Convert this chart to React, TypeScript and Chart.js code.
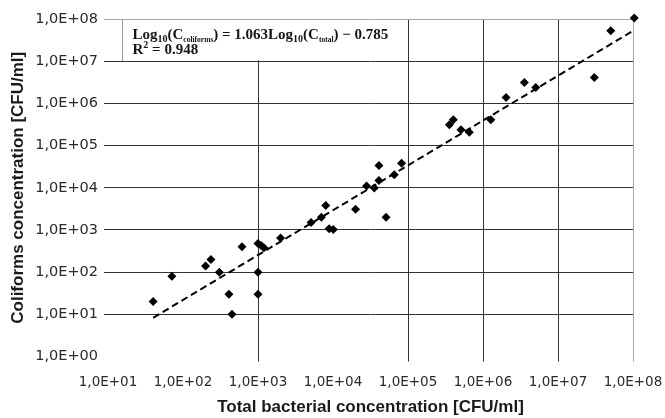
import React, { useEffect, useRef } from "react";
import { Chart, registerables } from "chart.js";

Chart.register(...registerables);

// Scatter data: total bacterial vs coliforms concentration [CFU/ml]
const totalCFU = [
  40, 71, 200, 236, 305, 410, 450, 612, 1000, 1000, 1000, 1100, 1200, 2000,
  5100, 7000, 8000, 8900, 10100, 20000, 28000, 35500, 41000, 41000, 51000,
  65600, 82000, 356000, 402000, 509000, 657000, 1270000, 2030000, 3560000,
  5050000, 30500000, 50500000, 104000000,
];
const coliformCFU = [
  20, 80, 140, 200, 100, 30, 10, 400, 100, 30, 480, 430, 380, 640,
  1500, 2000, 3800, 1060, 1020, 3100, 11000, 9800, 14800, 33600, 2000,
  20200, 38000, 310000, 407000, 236000, 208000, 408000, 1380000, 3130000,
  2380000, 4100000, 53000000, 105000000,
];

// Trend line (from the equation printed on the chart)
const trendSlope = 1.063;
const trendIntercept = -0.785;
const trendX = [40, 100000000];

const xTicks = [1e1, 1e2, 1e3, 1e4, 1e5, 1e6, 1e7, 1e8];
const yTicks = [1e0, 1e1, 1e2, 1e3, 1e4, 1e5, 1e6, 1e7, 1e8];
const xGridShown = [1e3, 1e5, 1e6, 1e7];
const yGridShown = [1e1, 1e2, 1e3, 1e4, 1e5, 1e6, 1e7];

const fmt = (v: number) => {
  const e = Math.round(Math.log10(v));
  return "1,0E+" + (e < 10 ? "0" + e : String(e));
};

const near = (a: number, b: number) => Math.abs(Math.log10(a) - Math.log10(b)) < 1e-6;

const equationPlugin = {
  id: "equation",
  beforeDatasetsDraw(chart: any) {
    const { ctx, chartArea, scales } = chart;
    const top = scales.y.getPixelForValue(1e8);
    const bottom = scales.y.getPixelForValue(1e7);
    const right = scales.x.getPixelForValue(1e5);
    const left = chartArea.left + 14;
    ctx.save();
    ctx.fillStyle = "#ffffff";
    ctx.fillRect(left, top + 1, right - left - 1, bottom - top - 2);
    ctx.strokeStyle = "#9a9a9a";
    ctx.lineWidth = 1;
    ctx.beginPath();
    ctx.moveTo(Math.round(left) + 0.5, Math.round(top));
    ctx.lineTo(Math.round(left) + 0.5, Math.round(bottom));
    ctx.stroke();
    ctx.fillStyle = "#151515";
    ctx.textBaseline = "alphabetic";
    ctx.textAlign = "left";
    const big = 'bold 15px "Liberation Serif", "Times New Roman", serif';
    const sub = 'bold 10px "Liberation Serif", "Times New Roman", serif';
    const tiny = 'bold 7.5px "Liberation Serif", "Times New Roman", serif';
    let x = left + 10.5;
    const y1 = top + 19.5;
    const parts: [string, string, number][] = [
      ["Log", big, 0],
      ["10", sub, 3],
      ["(C", big, 0],
      ["coliforms", tiny, 3],
      [") = 1.063Log", big, 0],
      ["10", sub, 3],
      ["(C", big, 0],
      ["total", tiny, 3],
      [") \u2212 0.785", big, 0],
    ];
    for (const [t, f, dy] of parts) {
      ctx.font = f;
      ctx.fillText(t, x, y1 + dy);
      x += ctx.measureText(t).width;
    }
    const y2 = top + 35;
    x = left + 10.5;
    const parts2: [string, string, number][] = [
      ["R", big, 0],
      ["2", sub, -6],
      [" = 0.948", big, 0],
    ];
    for (const [t, f, dy] of parts2) {
      ctx.font = f;
      ctx.fillText(t, x, y2 + dy);
      x += ctx.measureText(t).width;
    }
    ctx.restore();
  },
};

export default function App() {
  const ref = useRef<HTMLCanvasElement>(null);
  useEffect(() => {
    if (!ref.current) return;
    const points = totalCFU.map((x, i) => ({ x, y: coliformCFU[i] }));
    const trend = trendX.map((x) => ({
      x,
      y: Math.pow(10, trendSlope * Math.log10(x) + trendIntercept),
    }));
    const chart = new Chart(ref.current, {
      type: "scatter",
      data: {
        datasets: [
          {
            type: "line",
            data: trend,
            borderColor: "#000000",
            borderWidth: 2,
            borderDash: [7, 4],
            pointRadius: 0,
            fill: false,
            clip: false,
          } as any,
          {
            type: "scatter",
            data: points,
            pointStyle: "rectRot",
            pointRadius: 4.5,
            backgroundColor: "#000000",
            borderColor: "#000000",
            borderWidth: 0,
            clip: false,
          } as any,
        ],
      },
      options: {
        animation: false,
        responsive: true,
        maintainAspectRatio: false,
        layout: { padding: { left: 0, right: 32, top: 19, bottom: 0 } },
        plugins: {
          legend: { display: false },
          tooltip: { enabled: false },
        },
        scales: {
          x: {
            type: "logarithmic",
            min: 10,
            max: 1e8,
            afterBuildTicks: (s: any) => {
              s.ticks = xTicks.map((v) => ({ value: v }));
            },
            afterFit: (s: any) => {
              s.height = 61.5;
              s.paddingLeft = 0;
              s.paddingRight = 0;
            },
            border: { display: false },
            grid: {
              color: (c: any) => {
                const v = c.tick ? c.tick.value : 0;
                if (near(v, 1e8)) return "#a8a8a8";
                return xGridShown.some((g) => near(g, v)) ? "#333333" : "rgba(0,0,0,0)";
              },
              lineWidth: 1,
              tickLength: 5,
            },
            ticks: {
              autoSkip: false,
              maxRotation: 0,
              padding: 13,
              color: "#2a2a2a",
              font: { family: '"DejaVu Sans", Arial, sans-serif', size: 13.5 },
              callback: (v: any) => fmt(Number(v)),
            },
            title: {
              display: true,
              text: "Total bacterial concentration [CFU/ml]",
              color: "#1a1a1a",
              font: { family: '"Liberation Sans", Arial, sans-serif', size: 17, weight: "bold" },
              padding: { top: 0, bottom: 0 },
            },
          },
          y: {
            type: "logarithmic",
            min: 1,
            max: 1e8,
            afterBuildTicks: (s: any) => {
              s.ticks = yTicks.map((v) => ({ value: v }));
            },
            afterFit: (s: any) => {
              s.width = 108;
            },
            border: { display: false },
            grid: {
              color: (c: any) => {
                const v = c.tick ? c.tick.value : 0;
                if (near(v, 1e8)) return "#a8a8a8";
                return yGridShown.some((g) => near(g, v)) ? "#333333" : "rgba(0,0,0,0)";
              },
              lineWidth: 1,
              tickLength: 4,
            },
            ticks: {
              autoSkip: false,
              padding: 6,
              color: "#2a2a2a",
              font: { family: '"DejaVu Sans", Arial, sans-serif', size: 14.5 },
              callback: (v: any) => fmt(Number(v)),
            },
            title: {
              display: true,
              text: "Coliforms concentration [CFU/ml]",
              color: "#1a1a1a",
              font: { family: '"Liberation Sans", Arial, sans-serif', size: 17, weight: "bold" },
              padding: { top: 8.5, bottom: 0 },
            },
          },
        },
      },
      plugins: [equationPlugin],
    });
    return () => chart.destroy();
  }, []);
  return (
    <div style={{ position: "fixed", left: 0, top: 0, width: 665, height: 418, background: "#ffffff" }}>
      <canvas ref={ref} />
    </div>
  );
}
